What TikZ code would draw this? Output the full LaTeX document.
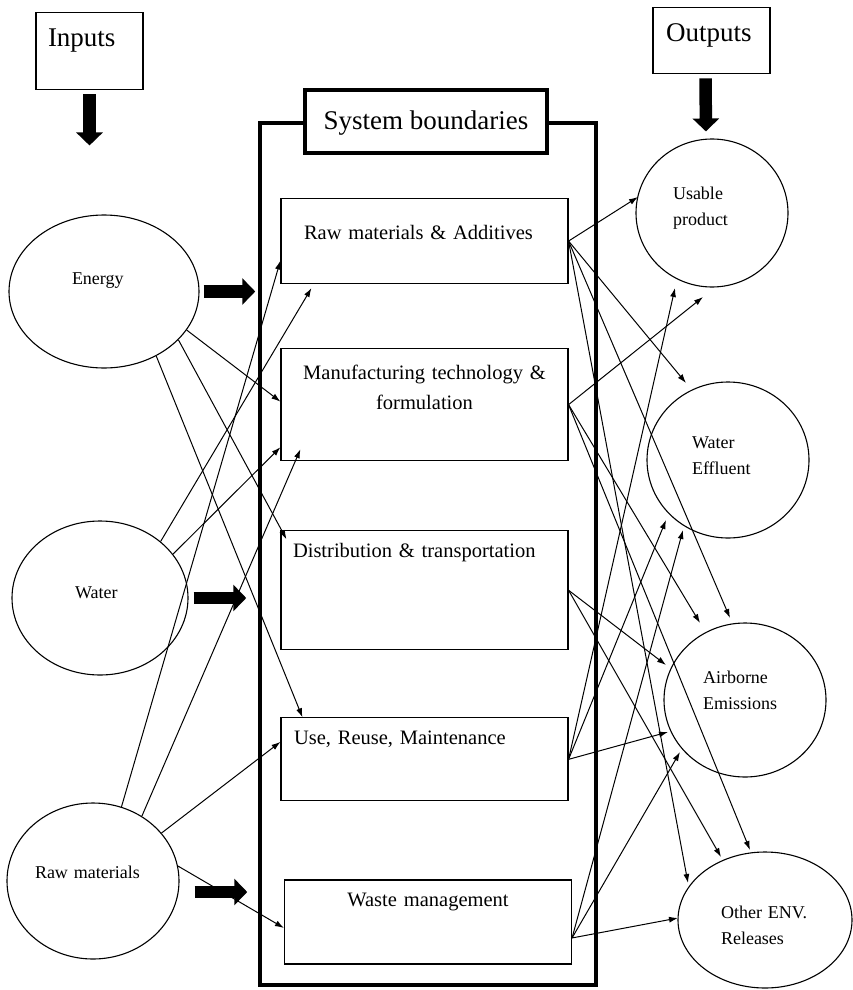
\documentclass[tikz,border=0pt]{standalone}
\usepackage{fontspec}
\setmainfont{Liberation Serif}
\usetikzlibrary{arrows.meta,positioning,calc,shapes.geometric}

\begin{document}
\begin{tikzpicture}[
  x=1pt, y=-1pt,
  hdr/.style={rectangle, draw=black, line width=1.4pt, align=left, anchor=north,
              font=\fontsize{27}{32}\selectfont, inner ysep=0pt},
  sysframe/.style={rectangle, draw=black, line width=3.5pt, inner sep=0pt,
                   minimum width=336pt, minimum height=862pt},
  syslab/.style={rectangle, draw=black, line width=4.5pt, fill=white, inner ysep=0pt,
                 font=\fontsize{27}{32}\selectfont, minimum width=242pt,
                 text height=40pt, text depth=23pt},
  proc/.style={rectangle, draw=black, line width=1.1pt, inner ysep=0pt,
               font=\fontsize{20.5}{30}\selectfont},
  inp/.style={ellipse, draw=black, line width=1.1pt, inner sep=0pt, align=left,
              font=\fontsize{18}{26}\selectfont, text height=14pt},
  outp/.style={inp},
  flow/.style={-{Latex[length=9pt,width=6pt]}, line width=1pt},
  fat/.style={-{Triangle[length=13pt,width=26pt]}, line width=12.5pt},
]
\useasboundingbox (0,0) rectangle (853,990);
% --- HEADINGS ---
\node[hdr, inner xsep=12pt, text width=83pt, text height=34pt, text depth=43pt]
  (inputs) at (89.5,12) {Inputs};
\node[hdr, inner xsep=13pt, text width=91pt, text height=34pt, text depth=32pt]
  (outputs) at (711.5,7) {Outputs};
% --- SYSTEM BOUNDARY ---
\node[sysframe] (sysb) at (428,554) {};
\node[syslab] (syslab) at ([xshift=-2pt]sysb.north) {System boundaries};
% --- PROCESS STAGES ---
\node[proc, anchor=north, inner xsep=23pt, text width=241pt, align=left,
      text height=41pt, text depth=44pt] (rma) at (424.5,198)
  {Raw materials \& Additives};
\node[proc, below=64pt of rma, inner xsep=10pt, text width=267pt, align=center,
      text height=31pt, text depth=81pt] (manuf)
  {Manufacturing technology \&\\formulation};
\node[proc, below=69pt of manuf, inner xsep=12pt, text width=263pt, align=left,
      text height=27pt, text depth=92pt] (dist)
  {Distribution \& transportation};
\node[proc, below=67pt of dist, inner xsep=13pt, text width=261pt, align=left,
      text height=27pt, text depth=56pt] (reuse)
  {Use, Reuse, Maintenance};
\node[proc, below=78pt of reuse, xshift=3.5pt, inner xsep=10pt, text width=267pt,
      align=center, text height=27pt, text depth=57pt] (waste)
  {Waste management};
% --- INPUTS ---
\node[inp, minimum width=190pt, minimum height=153pt, text width=64pt, text depth=29pt]
  (energy) at (104,291.5) {Energy};
\node[inp, minimum width=176pt, minimum height=154pt, text width=50pt, text depth=14pt]
  (water) at (100,598) {Water};
\node[inp, minimum width=172pt, minimum height=156pt, text width=116pt, text depth=19pt]
  (raw) at (93,881) {Raw materials};
% --- OUTPUTS ---
\node[outp, minimum width=152pt, minimum height=148pt, text width=78pt, text depth=41pt]
  (usable) at (712,213) {Usable\\product};
\node[outp, minimum width=162pt, minimum height=156pt, text width=72pt, text depth=38pt]
  (effluent) at (728,460) {Water\\Effluent};
\node[outp, minimum width=162pt, minimum height=154pt, text width=84pt, text depth=48pt]
  (airborne) at (745,700) {Airborne\\Emissions};
\node[outp, minimum width=174pt, minimum height=136pt, text width=88pt, text depth=18pt]
  (otherenv) at (765,920) {Other ENV.\\Releases};
% --- block arrows ---
\coordinate (rawout) at ([yshift=-11pt]raw.east);
\draw[fat, shorten <=4pt, shorten >=69pt] (inputs.south) -- (inputs.south |- energy.north);
\draw[fat, shorten <=4pt, shorten >=7pt] ([xshift=-6pt]outputs.south) -- ([xshift=-6pt]usable.north);
\draw[fat, shorten <=4pt, shorten >=3pt] (energy.east) -- (energy.east -| sysb.west);
\draw[fat, shorten <=5pt, shorten >=12pt] (water.east) -- (water.east -| sysb.west);
\draw[fat, shorten <=15pt, shorten >=11pt] (rawout) -- (rawout -| sysb.west);
% --- inputs to stages ---
\draw[flow] (energy.-25) -- ($(manuf.west)+(0,-3)$);
\draw[flow] (energy.-33) -- ($(dist.north west)+(6,9)$);
\draw[flow] (energy.-51) -- ($(reuse.north west)+(22,0)$);
\draw[flow] (water.43) -- ($(rma.south west)+(31,4)$);
\draw[flow] (water.31) -- ($(manuf.south west)+(0,-14)$);
\draw[flow] (raw.69) -- ($(rma.west)+(0,19.5)$);
\draw[flow] (raw.53) -- ($(manuf.south west)+(20,-12)$);
\draw[flow] (raw.35) -- ($(reuse.west)+(0,-17.5)$);
\draw[flow] (raw.10) -- ($(waste.west)+(0,6)$);
% --- stages to outputs ---
\draw[flow] (rma.east) -- ($(usable.center)+(-74,-16)$);
\draw[flow] (rma.east) -- ($(effluent.center)+(-42,-77)$);
\draw[flow] (rma.east) -- ($(airborne.center)+(-15,-82)$);
\draw[flow] (rma.east) -- ($(otherenv.center)+(-77,-37)$);
\draw[flow] (manuf.east) -- ($(usable.center)+(-9,84)$);
\draw[flow] (manuf.east) -- ($(airborne.center)+(-45,-77)$);
\draw[flow] (manuf.east) -- ($(otherenv.center)+(-15,-70)$);
\draw[flow] (dist.east) -- ($(airborne.center)+(-79,-35)$);
\draw[flow] (dist.east) -- ($(otherenv.center)+(-44,-63)$);
\draw[flow] (reuse.east) -- ($(usable.center)+(-37,75)$);
\draw[flow] (reuse.east) -- ($(effluent.center)+(-62,60)$);
\draw[flow] (reuse.east) -- ($(airborne.center)+(-77,32)$);
\draw[flow] ($(waste.east)+(0,16)$) -- ($(effluent.center)+(-45,70)$);
\draw[flow] ($(waste.east)+(0,16)$) -- ($(airborne.center)+(-65,52)$);
\draw[flow] ($(waste.east)+(0,16)$) -- ($(otherenv.center)+(-87,-2)$);
\end{tikzpicture}
\end{document}
